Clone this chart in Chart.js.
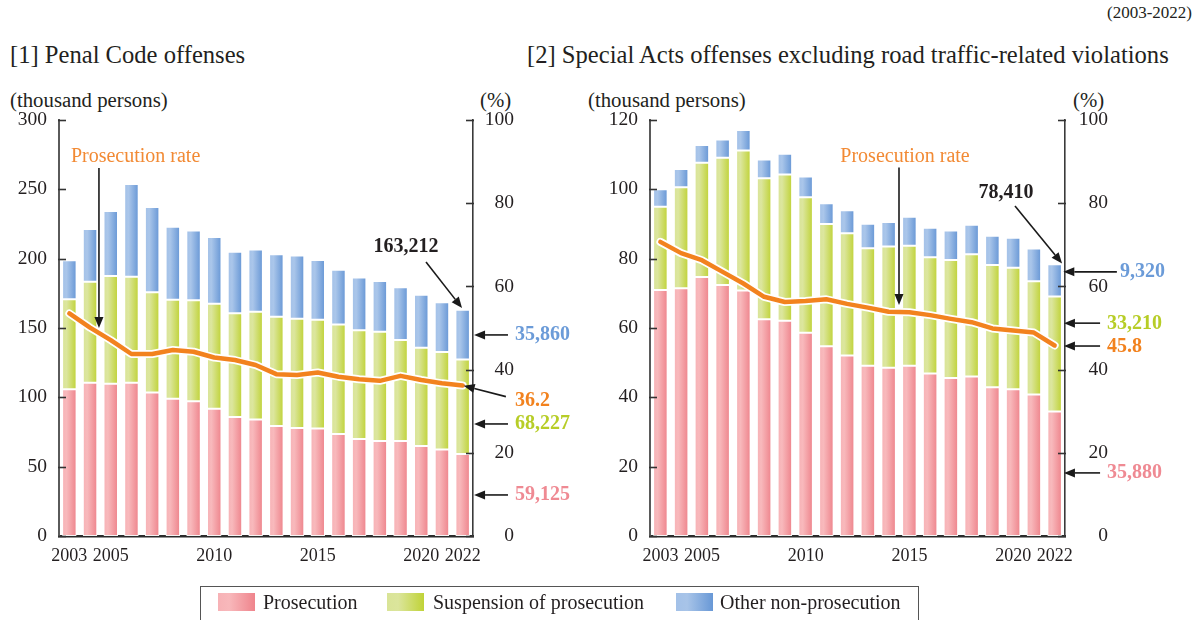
<!DOCTYPE html>
<html><head><meta charset="utf-8">
<script src="https://cdn.jsdelivr.net/npm/chart.js@4/dist/chart.umd.min.js"></script>
<style>
body{margin:0;background:#fff;width:1200px;height:620px;overflow:hidden;position:relative;font-family:"Liberation Serif","Times New Roman",serif;color:#231f20}
.t{position:absolute;white-space:nowrap;line-height:1;transform:translateY(-50%)}
canvas{position:absolute;top:0}
#legend{position:absolute;left:200px;top:586px;width:719px;height:40px;border:1px solid #555;box-sizing:border-box}
.sw{position:absolute;top:6px;width:37px;height:18px}
.lt{position:absolute;top:15px;font-size:20px;line-height:1;transform:translateY(-50%);white-space:nowrap}
</style></head>
<body>
<div class="t" style="right:8px;top:12px;font-size:17px">(2003-2022)</div>
<div class="t" style="left:10px;top:55px;font-size:24.6px">[1] Penal Code offenses</div>
<div class="t" style="left:527px;top:55px;font-size:24.6px">[2] Special Acts offenses excluding road traffic-related violations</div>
<div class="t" style="left:10px;top:100px;font-size:20.8px">(thousand persons)</div>
<div class="t" style="left:480px;top:100px;font-size:20.8px">(%)</div>
<div class="t" style="left:588px;top:100px;font-size:20.8px">(thousand persons)</div>
<div class="t" style="left:1073px;top:100px;font-size:20.8px">(%)</div>
<canvas id="c1" width="580" height="620" style="left:0"></canvas>
<canvas id="c2" width="620" height="620" style="left:580px"></canvas>
<div id="legend">
  <div class="sw" style="left:17px;background:linear-gradient(90deg,#f7b2b6,#f8b8bb 30%,#ef848c)"></div>
  <div class="lt" style="left:62px">Prosecution</div>
  <div class="sw" style="left:186px;background:linear-gradient(90deg,#d9e497,#dbe59c 30%,#c0d337)"></div>
  <div class="lt" style="left:232px">Suspension of prosecution</div>
  <div class="sw" style="left:475px;background:linear-gradient(90deg,#a3c1e8,#a8c4e8 30%,#6898d6)"></div>
  <div class="lt" style="left:519px">Other non-prosecution</div>
</div>
<script>
// ---------- data ----------
const years = ['2003','2004','2005','2006','2007','2008','2009','2010','2011','2012','2013','2014','2015','2016','2017','2018','2019','2020','2021','2022'];
const xTickLabels = ['2003','2005','2010','2015','2020','2022'];

// [1] Penal Code offenses (thousand persons)
const penalProsecution = [105.8,110.6,109.8,110.6,103.4,99.0,97.1,91.8,85.8,84.1,79.3,77.8,77.6,73.6,69.9,68.5,68.5,64.9,62.3,59.125];
const penalSuspension  = [64.9,72.8,77.7,76.4,72.3,71.4,72.9,75.7,74.8,77.7,78.9,78.9,78.4,79.0,78.4,78.8,72.8,70.9,70.4,68.227];
const penalOther       = [28.1,38.0,46.9,66.8,61.5,52.7,50.4,48.1,44.4,44.9,44.9,45.5,43.0,39.4,38.2,36.6,38.0,38.2,35.8,35.86];
const penalRate        = [53.5,50.1,47.1,43.75,43.75,44.7,44.3,42.9,42.3,41.1,38.9,38.7,39.3,38.3,37.7,37.3,38.5,37.5,36.7,36.2];

// [2] Special Acts offenses (thousand persons)
const specialProsecution = [70.95,71.5,74.7,72.4,70.8,62.5,62.1,58.6,54.7,52.1,49.1,48.5,49.1,46.9,45.6,46.0,42.9,42.3,40.8,35.88];
const specialSuspension  = [24.0,29.1,33.0,36.7,40.4,40.7,42.2,39.1,35.3,35.2,33.9,35.0,34.6,33.5,34.0,35.3,35.3,35.1,32.7,33.21];
const specialOther       = [5.1,5.3,5.1,5.3,5.9,5.4,6.0,6.0,6.0,6.7,7.1,7.1,8.4,8.5,8.5,8.5,8.4,8.6,9.4,9.32];
const specialRate        = [70.7,68.0,66.3,63.5,60.7,57.5,56.25,56.5,56.9,55.8,54.9,53.9,53.8,53.1,52.2,51.4,49.9,49.4,48.9,45.8];

// ---------- style ----------
const FONT = '"Liberation Serif","Times New Roman",serif';
const TXT = '#231f20';
const ORANGE = '#f2821e', BLUE = '#6b9bd8', GREEN = '#b7cd27', PINK = '#ef8a93';
const BAR_PCT = 0.7;

function barGrad(c0, cm, c1){
  return (ctx) => {
    const chart = ctx.chart, xs = chart.scales.x;
    if (!xs || ctx.type !== 'data' || !isFinite(xs.width)) return c1;
    const cx = xs.getPixelForValue(ctx.dataIndex);
    const w = xs.width / chart.data.labels.length * BAR_PCT;
    const g = chart.ctx.createLinearGradient(cx - w/2, 0, cx + w/2, 0);
    g.addColorStop(0, c0); g.addColorStop(0.3, cm); g.addColorStop(1, c1);
    return g;
  };
}

function notesPlugin(notes){
  return {
    id:'notes',
    afterDatasetsDraw(chart){
      const {ctx} = chart, xs = chart.scales.x, ys = chart.scales.y, y2 = chart.scales.y2;
      ctx.save();
      ctx.strokeStyle = '#333'; ctx.lineWidth = 1.6;
      ys.ticks.forEach(t => { const p = Math.round(ys.getPixelForValue(t.value)) + 0.5;
        ctx.beginPath(); ctx.moveTo(ys.right - 1, p); ctx.lineTo(ys.right + 7, p); ctx.stroke(); });
      y2.ticks.forEach(t => { const p = Math.round(y2.getPixelForValue(t.value)) + 0.5;
        ctx.beginPath(); ctx.moveTo(y2.left - 7, p); ctx.lineTo(y2.left + 1, p); ctx.stroke(); });
      ctx.strokeStyle = '#1a1a1a'; ctx.fillStyle = '#1a1a1a'; ctx.lineWidth = 1.6;
      notes.arrows.forEach(a => {
        const x0 = xs.getPixelForValue(a[0]), y0 = ys.getPixelForValue(a[1]);
        const x1 = xs.getPixelForValue(a[2]), y1 = ys.getPixelForValue(a[3]);
        const ang = Math.atan2(y1 - y0, x1 - x0), L = 11, W = 4.5;
        const bx = x1 - L*Math.cos(ang), by = y1 - L*Math.sin(ang);
        ctx.beginPath(); ctx.moveTo(x0, y0); ctx.lineTo(bx, by); ctx.stroke();
        ctx.beginPath(); ctx.moveTo(x1, y1);
        ctx.lineTo(bx + W*Math.sin(ang), by - W*Math.cos(ang));
        ctx.lineTo(bx - W*Math.sin(ang), by + W*Math.cos(ang));
        ctx.closePath(); ctx.fill();
      });
      ctx.textBaseline = 'middle';
      notes.texts.forEach(t => {
        ctx.font = (t.bold ? 'bold ' : '') + '20px ' + FONT;
        ctx.fillStyle = t.color; ctx.textAlign = t.align || 'left';
        ctx.fillText(t.text, xs.getPixelForValue(t.x), ys.getPixelForValue(t.y));
      });
      ctx.restore();
    }
  };
}

function makeChart(id, cfg){
  const rateWhite = { type:'line', data: cfg.rate, yAxisID:'y2', borderColor:'#ffffff', borderWidth:8,
    pointRadius:0, tension:0, order:2, borderJoinStyle:'round', borderCapStyle:'round' };
  const rateLine = { type:'line', data: cfg.rate, yAxisID:'y2', borderColor:ORANGE, borderWidth:4.5,
    pointRadius:0, tension:0, order:1, borderJoinStyle:'round', borderCapStyle:'round' };
  const bar = (label, data, g) => ({ type:'bar', label, data, yAxisID:'y', order:3,
    backgroundColor: barGrad(...g), borderColor:'rgba(255,255,255,0.95)', borderWidth:1, borderSkipped:false,
    barPercentage:BAR_PCT, categoryPercentage:1 });
  return new Chart(document.getElementById(id), {
    data: {
      labels: years,
      datasets: [
        bar('Prosecution', cfg.pros, ['#f7b2b6','#f8b9bc','#ee838b']),
        bar('Suspension of prosecution', cfg.susp, ['#d9e497','#dce69e','#bfd235']),
        bar('Other non-prosecution', cfg.other, ['#a3c1e8','#aac6ea','#6696d5']),
        rateWhite, rateLine
      ]
    },
    options: {
      responsive:false, animation:false, devicePixelRatio:1,
      layout:{ padding:{ top:120, bottom:0, left:0, right:cfg.padRight } },
      plugins:{ legend:{display:false}, tooltip:{enabled:false} },
      scales: {
        x: { stacked:true, grid:{display:false, drawTicks:false},
             border:{display:true, color:'#2b2b2b', width:2.5},
             afterFit: s => { s.height = 84; },
             ticks:{ autoSkip:false, maxRotation:0, padding:9, color:TXT, font:{family:FONT, size:18},
                     callback: function(v){ const l = this.getLabelForValue(v); return xTickLabels.includes(l) ? l : ''; } } },
        y: { stacked:true, position:'left', min:0, max:cfg.yMax,
             grid:{display:false, drawTicks:false}, border:{display:true, color:'#5a5a5a', width:2},
             afterFit: s => { s.width = cfg.leftW; },
             ticks:{ stepSize:cfg.yStep, padding:12, color:TXT, font:{family:FONT, size:19.5} } },
        y2: { position:'right', min:0, max:100,
             grid:{display:false, drawTicks:false}, border:{display:true, color:'#3a3a3a', width:1.6},
             afterFit: s => { s.width = cfg.rightW; },
             ticks:{ stepSize:20, padding:0, crossAlign:'far', color:TXT, font:{family:FONT, size:19.5} } }
      }
    },
    plugins:[notesPlugin(cfg.notes)]
  });
}

function drawAll(){
  makeChart('c1', {
    pros:penalProsecution, susp:penalSuspension, other:penalOther, rate:penalRate,
    yMax:300, yStep:50, leftW:59, rightW:41, padRight:66,
    notes:{
      texts:[
        {text:'Prosecution rate', x:3.2, y:273.3, align:'center', color:'#f28a34'},
        {text:'163,212', x:16.26, y:208.4, align:'center', color:TXT, bold:true},
        {text:'35,860', x:21.53, y:145, color:BLUE, bold:true},
        {text:'36.2', x:21.53, y:97.4, color:ORANGE, bold:true},
        {text:'68,227', x:21.53, y:80.8, color:GREEN, bold:true},
        {text:'59,125', x:21.53, y:29.6, color:PINK, bold:true}
      ],
      arrows:[
        [1.43,265.4,1.43,150],
        [17.23,197.6,18.97,164.4],
        [21.19,145,19.55,145],
        [21.09,100.5,19.05,108.4],
        [21.19,80.8,19.55,80.8],
        [21.19,29.6,19.55,29.6]
      ]
    }
  });
  makeChart('c2', {
    pros:specialProsecution, susp:specialSuspension, other:specialOther, rate:specialRate,
    yMax:120, yStep:20, leftW:70, rightW:43, padRight:92,
    notes:{
      texts:[
        {text:'Prosecution rate', x:11.79, y:109.3, align:'center', color:'#f28a34'},
        {text:'78,410', x:16.66, y:98.9, align:'center', color:TXT, bold:true},
        {text:'9,320', x:22.15, y:76.2, color:BLUE, bold:true},
        {text:'33,210', x:21.52, y:61.3, color:GREEN, bold:true},
        {text:'45.8', x:21.52, y:54.6, color:ORANGE, bold:true},
        {text:'35,880', x:21.52, y:18.1, color:PINK, bold:true}
      ],
      arrows:[
        [11.5,106.3,11.5,66.6],
        [17.09,95.2,19.36,78.6],
        [22.0,76.2,19.42,76.2],
        [21.19,61.4,19.45,61.4],
        [21.19,54.8,19.45,54.8],
        [21.19,18.2,19.45,18.2]
      ]
    }
  });
}

Promise.all([
  document.fonts.load('20px "Liberation Serif"'),
  document.fonts.load('bold 20px "Liberation Serif"')
]).catch(()=>{}).then(drawAll);
</script>
</body></html>
